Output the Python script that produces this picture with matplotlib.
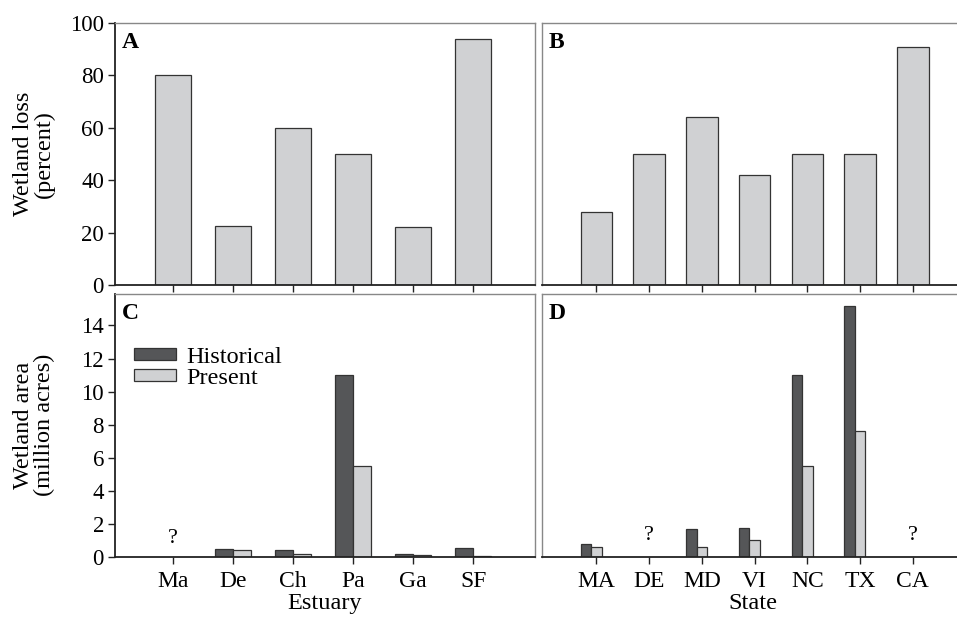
import numpy as np
import matplotlib
matplotlib.use('Agg')
import matplotlib.pyplot as plt

plt.rcParams['font.family'] = ['Liberation Serif', 'DejaVu Serif']

# Percent wetland loss by estuary and by state
estuaries = ['Ma', 'De', 'Ch', 'Pa', 'Ga', 'SF']
estuary_loss = [80, 22.5, 60, 50, 22, 94]
states = ['MA', 'DE', 'MD', 'VI', 'NC', 'TX', 'CA']
state_loss = [28, 50, 64, 42, 50, 50, 91]

# Wetland area (million acres), NaN = unknown
estuary_hist = [np.nan, 0.5, 0.45, 11.0, 0.2, 0.55]
estuary_pres = [np.nan, 0.4, 0.2, 5.5, 0.15, 0.05]
state_hist = [0.8, np.nan, 1.7, 1.75, 11.0, 15.2, np.nan]
state_pres = [0.6, np.nan, 0.6, 1.0, 5.5, 7.6, np.nan]

dark = '#555658'
light = '#d0d1d3'
edge = '#333333'
frame = '#888888'
W, H = 957, 619

fig = plt.figure(figsize=(W / 100, H / 100), dpi=100)

def box(l, t, r, b):
    return [l / W, 1 - b / H, (r - l) / W, (b - t) / H]

axA = fig.add_axes(box(115, 23, 535, 285))
axB = fig.add_axes(box(542, 23, 964, 285))
axC = fig.add_axes(box(115, 294, 535, 557))
axD = fig.add_axes(box(542, 294, 964, 557))

def style(ax, yaxis):
    for s in ['top', 'right']:
        ax.spines[s].set_color(frame)
        ax.spines[s].set_linewidth(1.0)
    ax.spines['bottom'].set_color('#222222')
    ax.spines['bottom'].set_linewidth(1.3)
    if yaxis:
        ax.spines['left'].set_color('#222222')
        ax.spines['left'].set_linewidth(1.3)
    else:
        ax.spines['left'].set_color(frame)
        ax.spines['left'].set_linewidth(1.0)
        ax.tick_params(axis='y', left=False, labelleft=False)
    ax.tick_params(direction='out', length=5, width=1, color='#222222', pad=3)
    ax.tick_params(axis='y', labelsize=16.5)
    ax.tick_params(axis='x', labelsize=17, pad=5)

xe = np.arange(len(estuaries))
xs = np.arange(len(states))

# A: loss by estuary
axA.bar(xe, estuary_loss, 0.6, color=light, edgecolor=edge, linewidth=0.9)
axA.set_xlim(-0.97, 6.03)
axA.set_ylim(0, 100)
axA.set_yticks([0, 20, 40, 60, 80, 100])
axA.set_xticks(xe)
axA.set_xticklabels([])
style(axA, True)

# B: loss by state
axB.bar(xs, state_loss, 0.6, color=light, edgecolor=edge, linewidth=0.9)
axB.set_xlim(-1.03, 6.97)
axB.set_ylim(0, 100)
axB.set_xticks(xs)
axB.set_xticklabels([])
style(axB, False)

# C: area by estuary
axC.bar(xe - 0.15, estuary_hist, 0.3, color=dark, edgecolor=edge, linewidth=0.9,
        label='Historical')
axC.bar(xe + 0.15, estuary_pres, 0.3, color=light, edgecolor=edge, linewidth=0.9,
        label='Present')
axC.set_xlim(-0.97, 6.03)
axC.set_ylim(0, 15.9)
axC.set_yticks(range(0, 15, 2))
axC.set_xticks(xe)
axC.set_xticklabels(estuaries)
axC.set_xlabel('Estuary', fontsize=17.5, labelpad=1)
style(axC, True)
for i, v in enumerate(estuary_hist):
    if np.isnan(v):
        axC.text(xe[i], 1.1, '?', ha='center', va='center', fontsize=16)
axC.legend(loc='upper left', bbox_to_anchor=(0.01, 0.855), frameon=False,
           fontsize=17.5, handlelength=1.75, handleheight=0.4, handletextpad=0.4,
           labelspacing=0.0, borderaxespad=0.2)

# D: area by state
axD.bar(xs - 0.2, state_hist, 0.2, color=dark, edgecolor=edge, linewidth=0.9)
axD.bar(xs, state_pres, 0.2, color=light, edgecolor=edge, linewidth=0.9)
axD.set_xlim(-1.03, 6.97)
axD.set_ylim(0, 15.9)
axD.set_xticks(xs)
axD.set_xticklabels(states)
axD.set_xlabel('State', fontsize=17.5, labelpad=1)
style(axD, False)
for i, v in enumerate(state_hist):
    if np.isnan(v):
        axD.text(xs[i], 1.3, '?', ha='center', va='center', fontsize=16)

for ax, lab in [(axA, 'A'), (axB, 'B'), (axC, 'C'), (axD, 'D')]:
    ax.text(0.016, 0.965, lab, transform=ax.transAxes, ha='left', va='top',
            fontsize=17, fontweight='bold')

fig.text(34 / W, 1 - 154 / H, 'Wetland loss\n(percent)', rotation=90,
         ha='center', va='center', fontsize=17.5, linespacing=1.0)
fig.text(34 / W, 1 - 425 / H, 'Wetland area\n(million acres)', rotation=90,
         ha='center', va='center', fontsize=17.5, linespacing=1.0)

fig.savefig('out.png', dpi=100)
